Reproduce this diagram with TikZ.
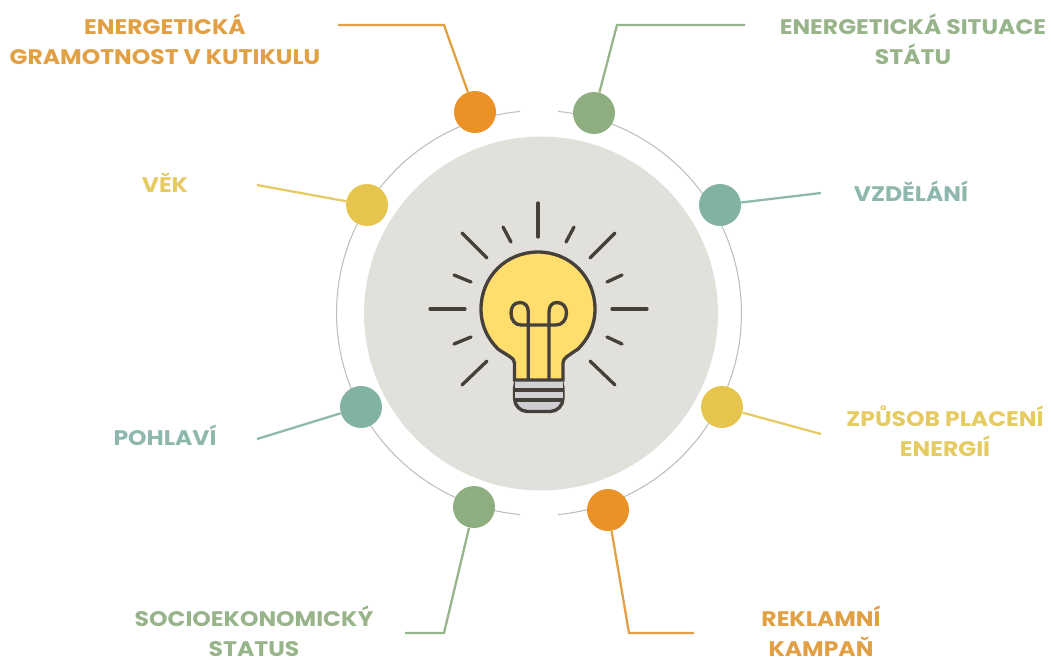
\documentclass[tikz,border=0pt]{standalone}
\usepackage{fontspec}
\setmainfont{Poppins}[FakeStretch=1.115]
\usepackage{tikz}
\definecolor{discgrey}{HTML}{E2E0DB}
\definecolor{ringgrey}{HTML}{BDBDBA}
\definecolor{bulbyellow}{HTML}{FFDE6E}
\definecolor{bulbline}{HTML}{45413A}
\definecolor{capgrey}{HTML}{CDCDD2}
\definecolor{dotorange}{HTML}{EB9226}
\definecolor{dotgreen}{HTML}{8FAE80}
\definecolor{dotteal}{HTML}{82B2A4}
\definecolor{dotyellow}{HTML}{E6C54E}
\definecolor{textorange}{HTML}{E2A044}
\definecolor{textgreen}{HTML}{98B48A}
\definecolor{textteal}{HTML}{8EB7AD}
\definecolor{textyellow}{HTML}{E5CB62}
\tikzset{
dot/.style={circle,minimum size=0.84cm,inner sep=0pt,fill=#1},
lead/.style={draw=#1,line width=1.3pt},
label/.style={text=#1,font=\fontsize{12}{17}\selectfont\bfseries,align=center,inner sep=0pt},
ray/.style={draw=bulbline,line width=1.9pt,line cap=round},
wire/.style={draw=bulbline,line width=1.9pt}
}
\begin{document}
\begin{tikzpicture}[x=0.02cm,y=-0.02cm]
\useasboundingbox (0,0) rectangle (1051,659);
\coordinate (ringc) at (539,313);
% ring, open at top and bottom
\draw[ringgrey,line width=0.6pt] (ringc) ++(95.4:4.05cm) arc[start angle=95.4,end angle=264.6,radius=4.05cm];
\draw[ringgrey,line width=0.6pt] (ringc) ++(-84.6:4.05cm) arc[start angle=-84.6,end angle=84.6,radius=4.05cm];
\node[circle,fill=discgrey,minimum size=7.08cm,inner sep=0pt] (disc) at (541,313.5) {};
% dots
\node[dot=dotorange] (dotgram) at (475,112) {};
\node[dot=dotgreen] (dotstat) at (594,113) {};
\node[dot=dotteal] (dotvzd) at (720,205) {};
\node[dot=dotyellow] (dotvek) at (367,205) {};
\node[dot=dotteal] (dotpoh) at (361,407) {};
\node[dot=dotyellow] (dotpla) at (722,407) {};
\node[dot=dotgreen] (dotsoc) at (474,507) {};
\node[dot=dotorange] (dotrek) at (608,510) {};
% free ends of the leads
\coordinate (kneegram) at (444,25);
\coordinate (endgram) at (338,25);
\coordinate (kneestat) at (617,25);
\coordinate (endstat) at (745,25);
\coordinate (endvzd) at (821,193);
\coordinate (endvek) at (257,185);
\coordinate (endpoh) at (257,439);
\coordinate (endpla) at (821,434);
\coordinate (kneesoc) at (444,633);
\coordinate (endsoc) at (405,633);
\coordinate (kneerek) at (629,633);
\coordinate (endrek) at (694,633);
\draw[lead=textorange] (dotgram) -- (kneegram) -- (endgram);
\draw[lead=textgreen] (dotstat) -- (kneestat) -- (endstat);
\draw[lead=textteal] (dotvzd) -- (endvzd);
\draw[lead=textyellow] (dotvek) -- (endvek);
\draw[lead=textteal] (dotpoh) -- (endpoh);
\draw[lead=textyellow] (dotpla) -- (endpla);
\draw[lead=textgreen] (dotsoc) -- (kneesoc) -- (endsoc);
\draw[lead=textorange] (dotrek) -- (kneerek) -- (endrek);
% labels
\node[label=textorange] (labgram) at (165,39.5) {ENERGETICKÁ\\GRAMOTNOST V KUTIKULU};
\node[label=textgreen] (labstat) at (913,39.5) {ENERGETICKÁ SITUACE\\STÁTU};
\node[label=textyellow] (labvek) at (165,182.5) {VĚK};
\node[label=textteal] (labvzd) at (911,191.5) {VZDĚLÁNÍ};
\node[label=textteal] (labpoh) at (165,435.5) {POHLAVÍ};
\node[label=textyellow] (labpla) at (945,431.5) {ZPŮSOB PLACENÍ\\ENERGIÍ};
\node[label=textgreen] (labsoc) at (254,631.5) {SOCIOEKONOMICKÝ\\STATUS};
\node[label=textorange] (labrek) at (821,631.5) {REKLAMNÍ\\KAMPAŇ};
% bulb
\foreach \xa/\ya/\xb/\yb in {538/203/538/237,430/309/465/309,612/309/647/309,462/233/487/258,615/233/590/258,462/385/487/361,615/385/590/361,503/227/511/242,574/227/566/242,454/275/471/282,622/275/607/282,454/344/471/337,622/344/607/337}
  \draw[ray] (\xa,\ya) -- (\xb,\yb);
\draw[wire,fill=capgrey,rounded corners=2.6mm] (514.5,375) -- (514.5,411.5) -- (563,411.5) -- (563,375) -- cycle;
\fill[discgrey!20!capgrey] (515,380) rectangle (562.5,400);
\draw[wire,fill=bulbyellow] (514.5,380) -- (514.5,363) .. controls (514.5,358) and (508,356) .. (498,349) .. controls (488,339) and (481,326) .. (481,309)
  .. controls (481,277) and (506,252) .. (538,252) .. controls (570,252) and (595,277) .. (595,309)
  .. controls (595,326) and (588,339) .. (578,349) .. controls (568,356) and (563,358) .. (563,363) -- (563,380) -- cycle;
\draw[wire] (528.3,379) -- (528.3,312) .. controls (528.3,306) and (525,302.5) .. (520,302.5) .. controls (514,302.5) and (511,307) .. (511,313) .. controls (511,320) and (515,325) .. (521,325)
  -- (556,325) .. controls (562,325) and (566.5,320) .. (566.5,313) .. controls (566.5,307) and (563,302.5) .. (557,302.5) .. controls (552,302.5) and (549,306) .. (549,312) -- (549,379);
\draw[wire] (514.5,390) -- (563,390);
\draw[wire] (514.5,400) -- (563,400);
\end{tikzpicture}
\end{document}
